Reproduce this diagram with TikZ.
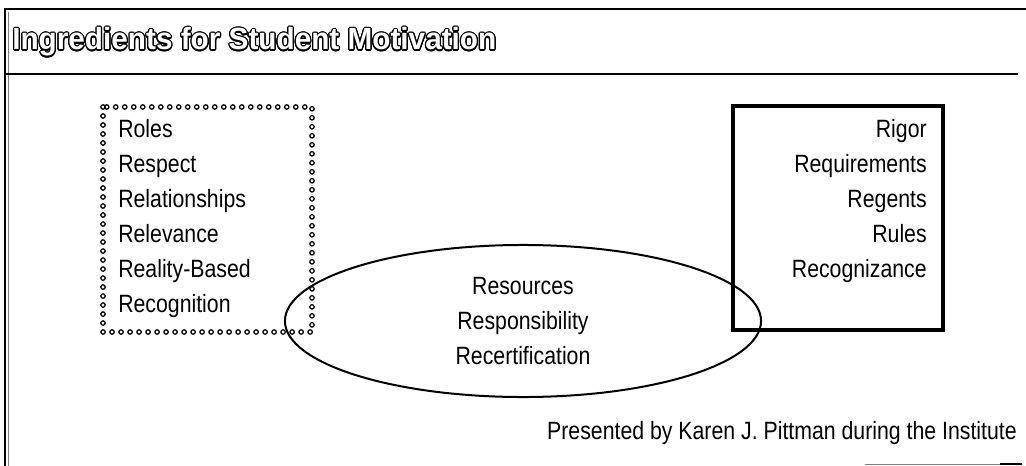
\documentclass[tikz,border=0pt]{standalone}
\usepackage{fontspec}
\setmainfont{Liberation Sans}[FakeStretch=0.85]
\newfontfamily\headfont{Liberation Sans}[FakeStretch=0.97]
\usepackage{contour}
\contourlength{0.9pt}
\usetikzlibrary{shapes.geometric,decorations.markings}

\begin{document}
\begin{tikzpicture}[x=0.025cm,y=-0.025cm,
  every node/.style={inner sep=0pt},
  body/.style={font=\fontsize{17.8}{24.9}\selectfont},
  frameline/.style={line width=0.07cm},
  ringdots/.style={postaction={decorate},
    decoration={markings,mark=between positions 0 and 1 step 0.225cm with {\draw[line width=0.9pt] (0,0) circle (0.055cm);}}}]
\useasboundingbox (0,0) rectangle (1026,466);

%frame
\draw[frameline] (5,466) -- (5,9) -- (1026,9);
\draw[gray,line width=0.4pt] (8.5,12) -- (8.5,466);
\draw[frameline] (5,74) -- (1018,74);
\draw[gray,line width=0.5pt] (865,464) -- (1000,464);
\draw[frameline] (1000,464) -- (1022,464);

%title
\node[anchor=base west] (title) at (12,50) {\headfont\bfseries\fontsize{21.8}{26}\selectfont\contour{black}{\textcolor{white}{Ingredients for Student Motivation}}};

%left box
\path[ringdots] (103,107) rectangle (312,332);
\node[body,align=left,anchor=north west] (leftlist) at (118,119) {Roles\\Respect\\Relationships\\Relevance\\Reality-Based\\Recognition};

%right box
\draw[line width=0.11cm] (733,106) rectangle (943,330);
\node[body,align=right,anchor=north east] (rightlist) at (927,119) {Rigor\\Requirements\\Regents\\Rules\\Recognizance};

%ellipse
\node[body,draw,ellipse,line width=0.05cm,minimum width=11.9cm,minimum height=3.8cm,align=center] (midlist) at (523,321) {Resources\\Responsibility\\Recertification};

\node[body,anchor=base east] (credit) at (1017,439) {Presented by Karen J. Pittman during the Institute};

\end{tikzpicture}
\end{document}
